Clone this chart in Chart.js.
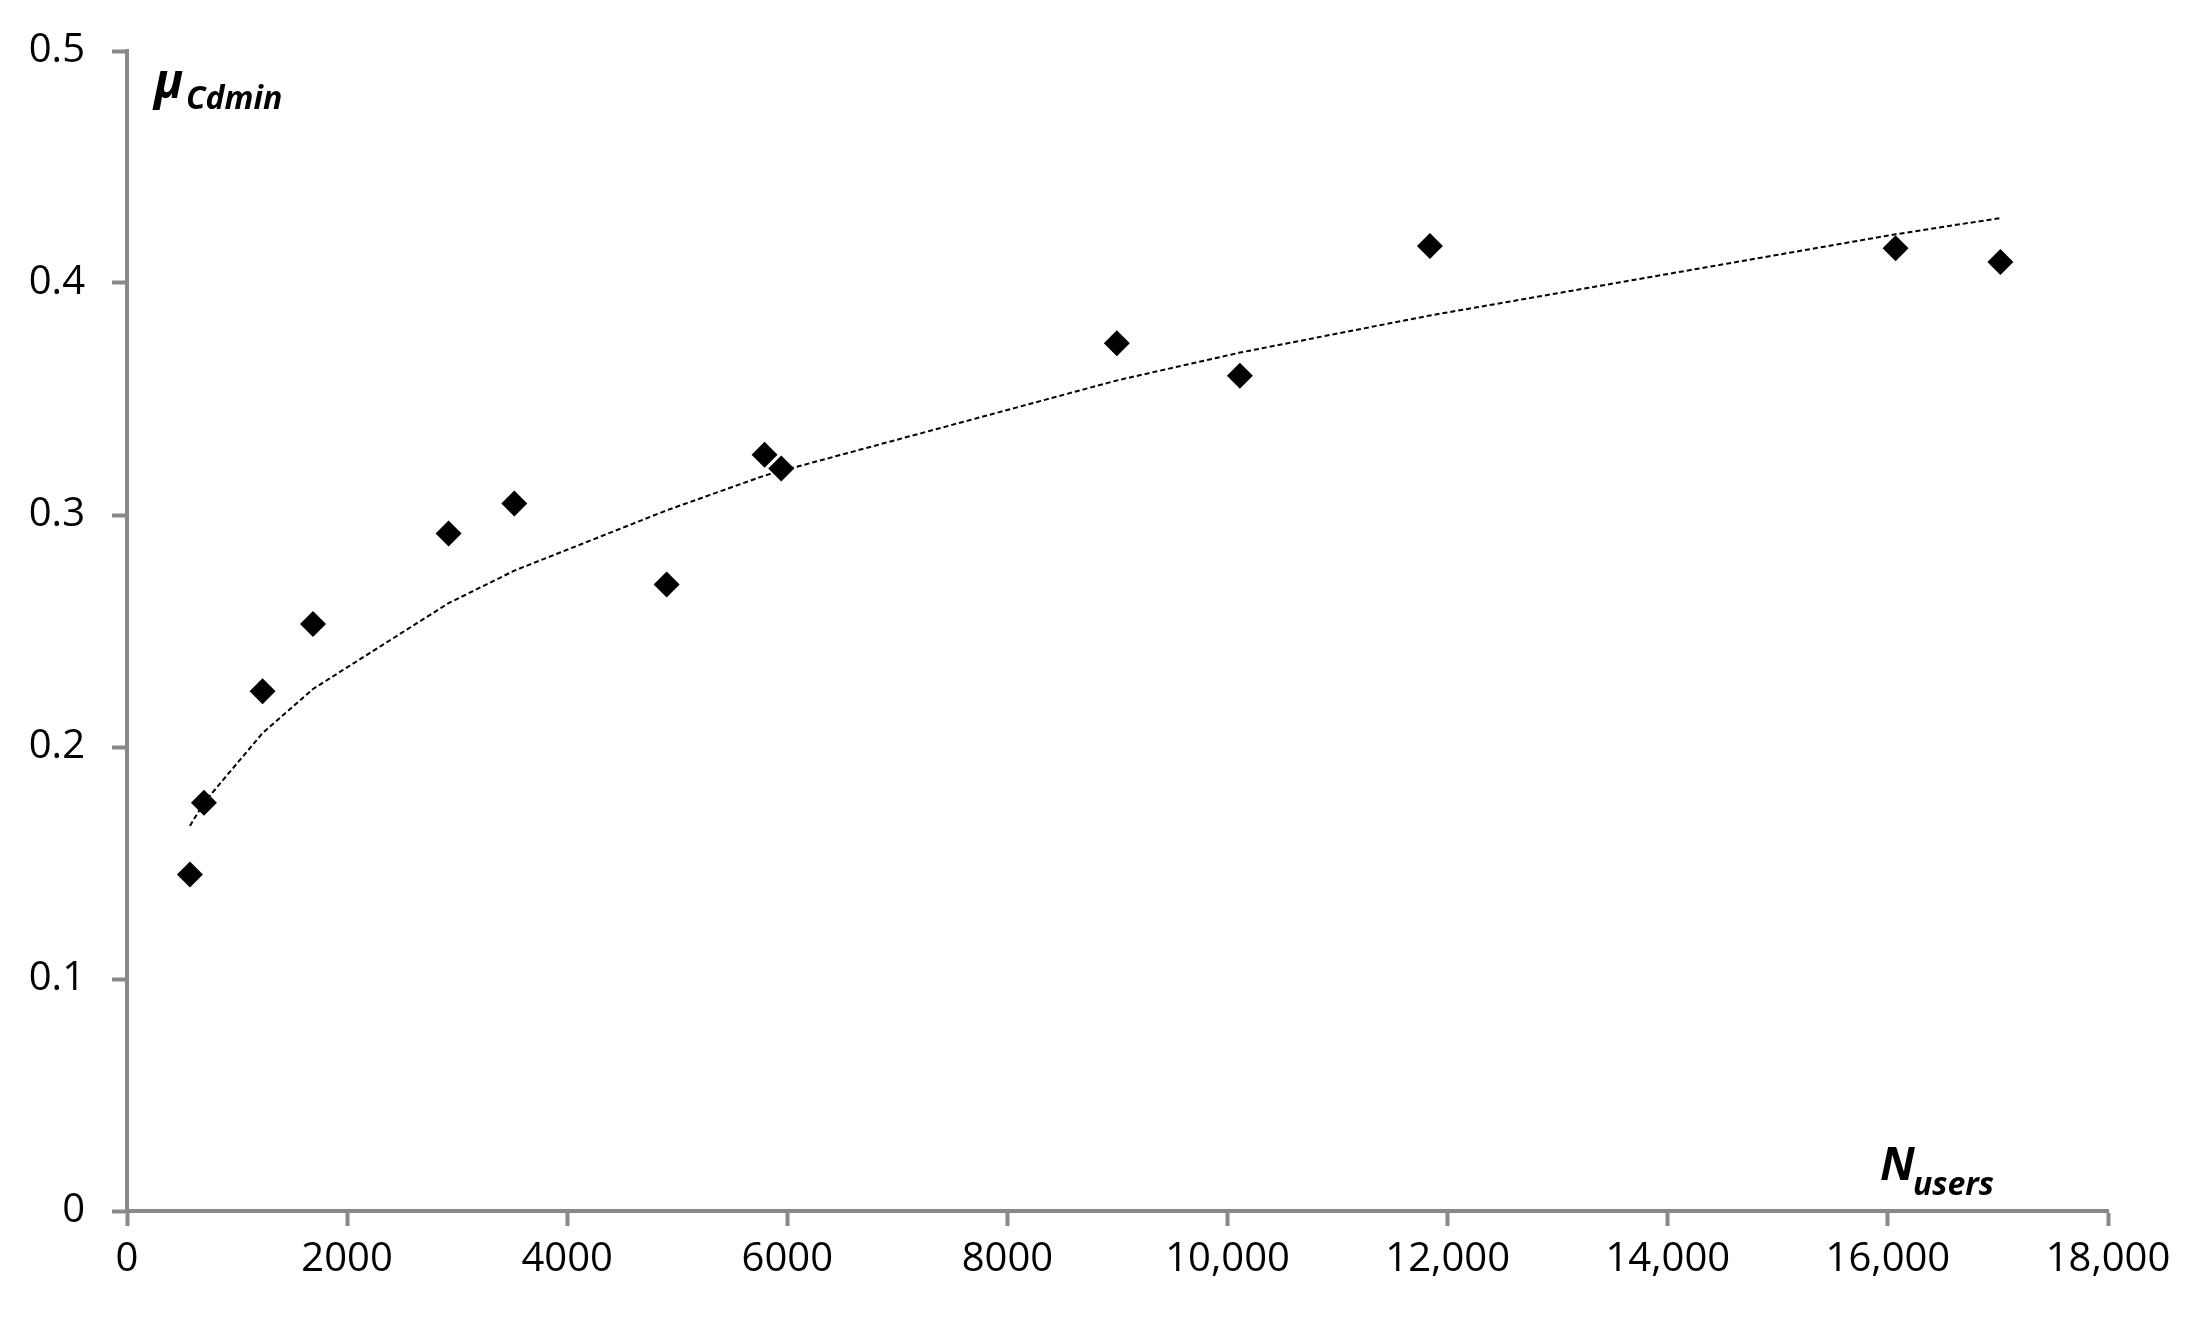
<!DOCTYPE html>
<html>
<head>
<meta charset="utf-8">
<script src="https://cdn.jsdelivr.net/npm/chart.js@4/dist/chart.umd.min.js"></script>
<style>
  html, body { margin: 0; padding: 0; background: #fff; }
  #wrap { width: 2192px; height: 1323px; }
</style>
</head>
<body>
<div id="wrap"><canvas id="chart" width="2192" height="1323"></canvas></div>
<script>
// measured points (N users vs mu Cdmin)
const usersX = [572, 699, 1232, 1690, 2922, 3519, 4903, 5793, 5945, 8994, 10112, 11839, 16070, 17022];
const muY = [0.145, 0.176, 0.224, 0.253, 0.292, 0.305, 0.270, 0.326, 0.320, 0.374, 0.360, 0.416, 0.415, 0.409];

// dotted trend line, read at the same x positions
const trendY = [0.166, 0.176, 0.206, 0.225, 0.262, 0.276, 0.302, 0.317, 0.319, 0.358, 0.370, 0.386, 0.421, 0.428];

const xTickLabels = ['0', '2000', '4000', '6000', '8000', '10,000', '12,000', '14,000', '16,000', '18,000'];
const yTickLabels = ['0', '0.1', '0.2', '0.3', '0.4', '0.5'];

const axisGray = '#898989';
const tickFont = { family: 'Open Sans', size: 40 };

const pointsData = usersX.map((x, i) => ({ x: x, y: muY[i] }));
const trendData = usersX.map((x, i) => ({ x: x, y: trendY[i] }));

// axis titles with subscripts, drawn inside the plot area
const axisTitles = {
  id: 'axisTitles',
  afterDraw(chart) {
    const ctx = chart.ctx;
    const area = chart.chartArea;
    ctx.save();
    ctx.fillStyle = '#000';
    ctx.textBaseline = 'alphabetic';
    ctx.textAlign = 'left';

    ctx.font = 'italic bold 48px "Open Sans"';
    ctx.fillText('μ', area.left + 27, area.top + 47);
    ctx.font = 'italic bold 32px "Open Sans"';
    ctx.fillText('Cdmin', area.left + 59, area.top + 58);

    ctx.font = 'italic bold 46px "Open Sans"';
    ctx.fillText('N', area.left + 1753, area.bottom - 31);
    ctx.font = 'italic bold 32px "Open Sans"';
    ctx.fillText('users', area.left + 1786, area.bottom - 16);
    ctx.restore();
  }
};

new Chart(document.getElementById('chart').getContext('2d'), {
  type: 'scatter',
  data: {
    datasets: [
      {
        label: 'Points',
        data: pointsData,
        pointStyle: 'rectRot',
        pointRadius: 13,
        pointHoverRadius: 13,
        backgroundColor: '#000',
        borderColor: '#000',
        borderWidth: 0,
        order: 1
      },
      {
        label: 'Trend',
        data: trendData,
        showLine: true,
        pointRadius: 0,
        borderColor: '#000',
        borderWidth: 2,
        borderDash: [5, 3],
        fill: false,
        order: 2
      }
    ]
  },
  options: {
    responsive: false,
    animation: false,
    layout: { padding: { left: 0, right: 84, top: 50, bottom: 0 } },
    plugins: {
      legend: { display: false },
      tooltip: { enabled: false }
    },
    scales: {
      x: {
        type: 'linear',
        min: 0,
        max: 18000,
        afterFit: function(scale) { scale.height = 112; },
        ticks: {
          stepSize: 2000,
          color: '#000',
          font: tickFont,
          padding: 10,
          maxRotation: 0,
          autoSkip: false,
          callback: function(value) { return xTickLabels[Math.round(value / 2000)]; }
        },
        grid: {
          drawOnChartArea: false,
          drawTicks: true,
          tickLength: 15,
          tickWidth: 4,
          tickColor: axisGray
        },
        border: { color: axisGray, width: 4 }
      },
      y: {
        type: 'linear',
        min: 0,
        max: 0.5,
        afterFit: function(scale) { scale.width = 127; },
        ticks: {
          stepSize: 0.1,
          color: '#000',
          font: tickFont,
          padding: 27,
          callback: function(value) { return yTickLabels[Math.round(value * 10)]; }
        },
        grid: {
          drawOnChartArea: false,
          drawTicks: true,
          tickLength: 15,
          tickWidth: 4,
          tickColor: axisGray
        },
        border: { color: axisGray, width: 4 }
      }
    }
  },
  plugins: [axisTitles]
});
</script>
</body>
</html>
